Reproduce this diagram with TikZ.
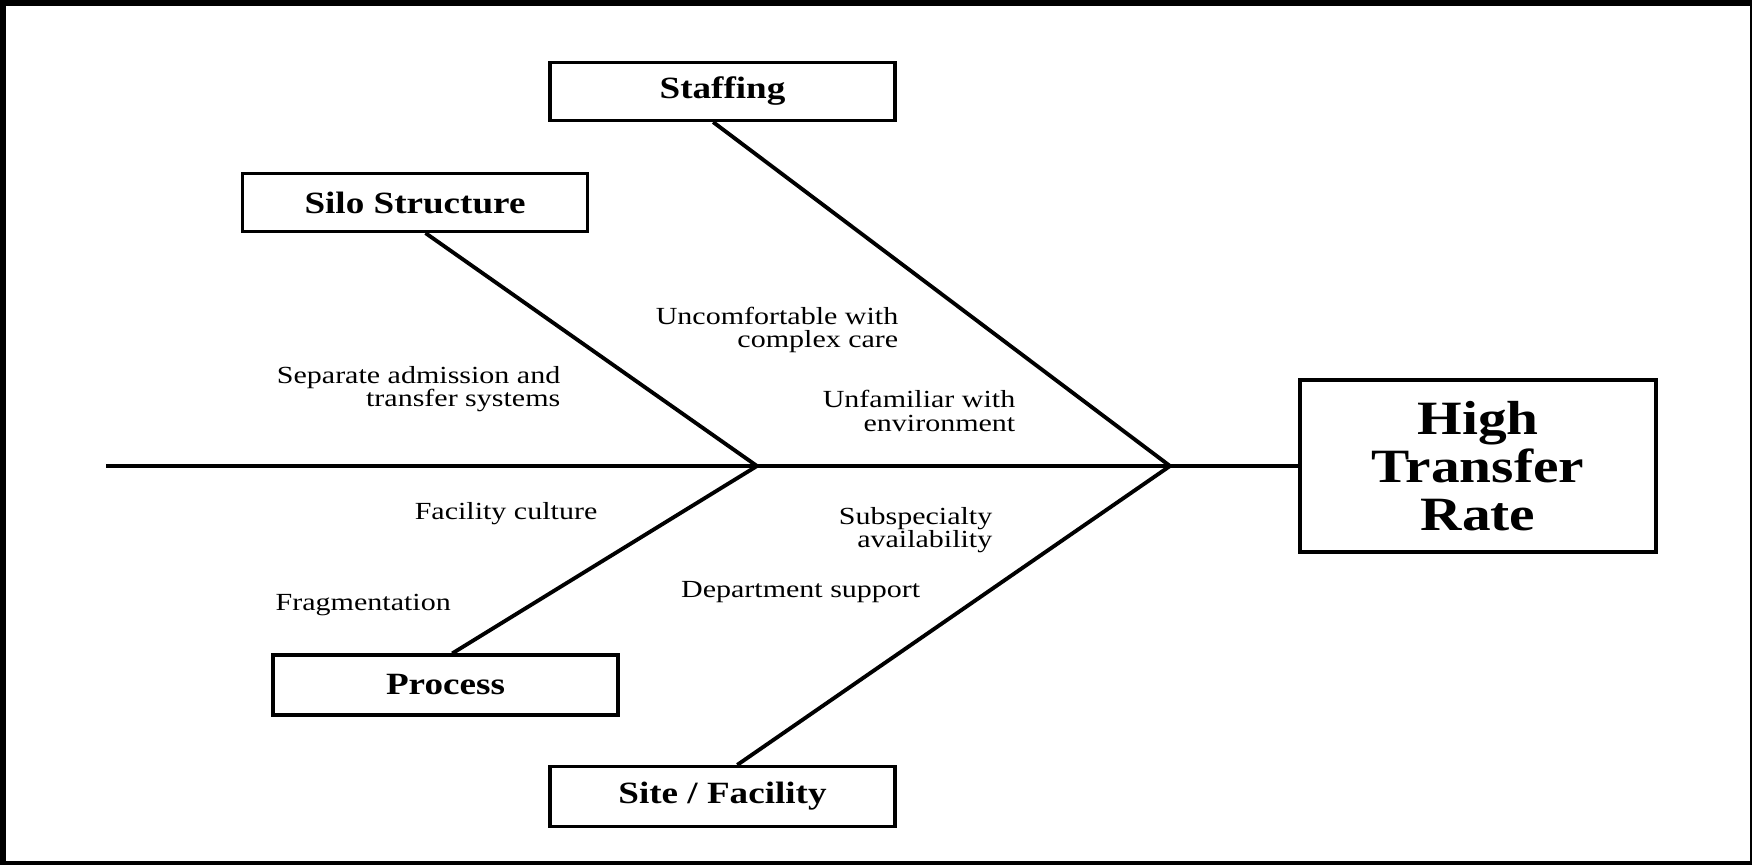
\documentclass[tikz,border=0pt]{standalone}
\usepackage{fontspec}
\setmainfont{Liberation Serif}
\newfontfamily\lblfont[FakeStretch=1.22]{Liberation Serif}
\newfontfamily\boxfont[FakeStretch=1.2]{Liberation Serif}
\usetikzlibrary{positioning}

\tikzset{
    category/.style={
        rectangle, draw=black, line width=0.9pt, fill=white, minimum width=3.45cm, minimum height=0.58cm, inner sep=0pt, text centered, font=\boxfont\fontsize{8.8}{9}\selectfont\bfseries
    },
    effect/.style={
        rectangle, draw=black, line width=0.9pt, fill=white, minimum width=3.56cm, minimum height=1.72cm, align=center, font=\boxfont\fontsize{13.6}{13.7}\selectfont\bfseries
    },
    cause/.style={
        align=right, inner sep=0pt, font=\lblfont\fontsize{7}{6.6}\selectfont
    },
    bone/.style={
        line width=1.1pt
    }
}

\begin{document}
\begin{tikzpicture}

    % Frame
    \fill[black] (0,0) rectangle (17.52,8.65);
    \fill[white] (0.06,0.04) rectangle (17.50,8.59);

    % Effect (head)
    \node[effect] (rate) at (14.78,3.99) {High\\Transfer\\Rate};
    \coordinate (tail) at (1.06,3.99);
    \coordinate (j1) at (7.57,3.99);
    \coordinate (j2) at (11.70,3.99);

    % Categories
    \node[category] (staff) at (7.225,7.735) {Staffing};
    \node[category] (silo) at (4.15,6.625) {Silo Structure};
    \node[category, minimum height=0.6cm] (proc) at (4.455,1.80) {Process};
    \node[category, minimum height=0.6cm] (site) at (7.225,0.685) {Site / Facility};

    % Spine and bones
    \draw[bone] (tail) -- (rate.west);
    \draw[bone] (silo.-71) -- (j1);
    \draw[bone] (staff.-107) -- (j2);
    \draw[bone] (proc.78) -- (j1);
    \draw[bone] (site.65) -- (j2);

    % Causes
    \node[cause, anchor=east] (sep) at (5.61,4.76) {Separate admission and\\transfer systems};
    \node[cause, anchor=east] (uncomf) at (8.99,5.35) {Uncomfortable with\\complex care};
    \node[cause, anchor=east] (unfam) at (10.16,4.54) {Unfamiliar with\\environment};
    \node[cause, anchor=east] (cult) at (5.98,3.51) {Facility culture};
    \node[cause, anchor=west] (frag) at (2.75,2.595) {Fragmentation};
    \node[cause, anchor=east] (subsp) at (9.93,3.35) {Subspecialty\\availability};
    \node[cause, anchor=east] (dept) at (9.21,2.73) {Department support};

\end{tikzpicture}
\end{document}
